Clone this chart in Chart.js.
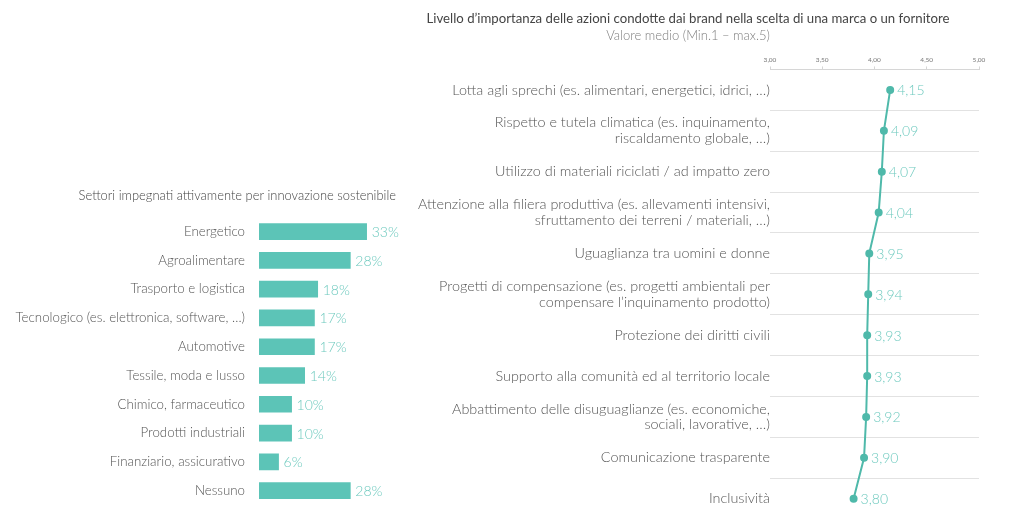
<!DOCTYPE html>
<html>
<head>
<meta charset="utf-8">
<script src="https://cdn.jsdelivr.net/npm/chart.js@4.4.1/dist/chart.umd.min.js"></script>
<style>
  html, body { margin: 0; padding: 0; background: #fff; }
  body { width: 1024px; height: 527px; position: relative; overflow: hidden; }
  .box { position: absolute; top: 0; height: 527px; }
  #sectorsBox { left: 0; width: 476px; }
  #actionsBox { left: 352px; width: 672px; }
</style>
</head>
<body>
<div class="box" id="sectorsBox"><canvas id="sectorsChart"></canvas></div>
<div class="box" id="actionsBox"><canvas id="actionsChart"></canvas></div>
<script>
// Settori impegnati (left bars)
const sectors = [
  'Energetico',
  'Agroalimentare',
  'Trasporto e logistica',
  'Tecnologico (es. elettronica, software, …)',
  'Automotive',
  'Tessile, moda e lusso',
  'Chimico, farmaceutico',
  'Prodotti industriali',
  'Finanziario, assicurativo',
  'Nessuno'
];
const sectorShares = [33, 28, 18, 17, 17, 14, 10, 10, 6, 28];

// Azioni dei brand (right line)
const actions = [
  'Lotta agli sprechi (es. alimentari, energetici, idrici, …)',
  ['Rispetto e tutela climatica (es. inquinamento,', 'riscaldamento globale, …)'],
  'Utilizzo di materiali riciclati / ad impatto zero',
  ['Attenzione alla filiera produttiva (es. allevamenti intensivi,', 'sfruttamento dei terreni / materiali, …)'],
  'Uguaglianza tra uomini e donne',
  ['Progetti di compensazione (es. progetti ambientali per', 'compensare l’inquinamento prodotto)'],
  'Protezione dei diritti civili',
  'Supporto alla comunità ed al territorio locale',
  ['Abbattimento delle disuguaglianze (es. economiche,', 'sociali, lavorative, …)'],
  'Comunicazione trasparente',
  'Inclusività'
];
const actionScores = [4.15, 4.09, 4.07, 4.04, 3.95, 3.94, 3.93, 3.93, 3.92, 3.90, 3.80];
const scoreTicks = [3, 3.5, 4, 4.5, 5];

const FONT = 'Lato, "Open Sans", sans-serif';
const TEAL = '#5cc4b7';
const TEAL_LINE = '#4fb9aa';
const TEAL_TEXT = '#6fcabf';
const GREY_TEXT = '#555';

Chart.defaults.font.family = FONT;
Chart.defaults.font.weight = '300';
Chart.defaults.animation = false;
Chart.defaults.responsive = true;
Chart.defaults.maintainAspectRatio = false;

const fmtComma = (v, d) => v.toFixed(d).replace('.', ',');

// draws the value next to each bar / point
const valueLabels = {
  id: 'valueLabels',
  afterDatasetsDraw(chart, args, opts) {
    const ctx = chart.ctx;
    const meta = chart.getDatasetMeta(0);
    const data = chart.data.datasets[0].data;
    ctx.save();
    ctx.font = opts.font;
    ctx.fillStyle = opts.color;
    ctx.textAlign = 'left';
    ctx.textBaseline = 'middle';
    meta.data.forEach((el, i) => {
      ctx.fillText(opts.format(data[i]), el.x + opts.offset, el.y + 1);
    });
    ctx.restore();
  }
};

function renderSectors() {
  const ctx = document.getElementById('sectorsChart').getContext('2d');
  new Chart(ctx, {
    type: 'bar',
    data: {
      labels: sectors,
      datasets: [{
        data: sectorShares,
        backgroundColor: TEAL,
        barThickness: 16,
      }],
    },
    options: {
      indexAxis: 'y',
      layout: { padding: { right: 80, bottom: 19.5 } },
      scales: {
        x: { display: false, min: 0, max: 42 },
        y: {
          afterFit: s => { s.width = 259; },
          grid: { display: false, drawTicks: false },
          border: { display: false },
          ticks: { color: GREY_TEXT, padding: 14, font: { size: 13.3 } },
        },
      },
      plugins: {
        legend: { display: false },
        tooltip: { enabled: false },
        title: {
          display: true,
          align: 'end',
          text: 'Settori impegnati attivamente per innovazione sostenibile',
          color: '#444',
          font: { size: 12.9, weight: '300' },
          padding: { top: 188, bottom: 13.7 },
        },
        valueLabels: {
          font: '300 14px ' + FONT,
          color: TEAL_TEXT,
          offset: 5,
          format: v => v + '%',
        },
      },
    },
    plugins: [valueLabels],
  });
}

function renderActions() {
  const ctx = document.getElementById('actionsChart').getContext('2d');
  new Chart(ctx, {
    type: 'line',
    data: {
      labels: actions,
      datasets: [{
        data: actionScores,
        borderColor: TEAL_LINE,
        backgroundColor: TEAL_LINE,
        borderWidth: 2,
        pointRadius: 3,
        tension: 0,
      }],
    },
    options: {
      indexAxis: 'y',
      layout: { padding: { left: 45, right: 45, bottom: 6.5 } },
      scales: {
        x: {
          type: 'linear',
          position: 'top',
          min: 3,
          max: 5,
          afterFit: s => { s.height = 26; },
          afterBuildTicks: s => { s.ticks = scoreTicks.map(v => ({ value: v })); },
          grid: { drawOnChartArea: false, tickLength: 3, color: '#d6d6d6' },
          border: { color: '#d6d6d6' },
          ticks: {
            color: '#777',
            padding: 3,
            font: { size: 6.5, weight: 'normal' },
            callback: v => fmtComma(v, 2),
          },
        },
        y: {
          type: 'category',
          offset: true,
          afterFit: s => { s.width = 373; },
          grid: {
            offset: true,
            drawTicks: false,
            color: c => (c.type === 'tick' ? '#e2e2e2' : 'rgba(0,0,0,0)'),
          },
          border: { display: false },
          ticks: {
            color: GREY_TEXT,
            padding: 0,
            font: { size: 14.4, lineHeight: 1.1 },
          },
        },
      },
      plugins: {
        legend: { display: false },
        tooltip: { enabled: false },
        title: {
          display: true,
          text: 'Livello d’importanza delle azioni condotte dai brand nella scelta di una marca o un fornitore',
          color: '#444',
          font: { size: 13.2, weight: 'normal' },
          padding: { top: 11, bottom: 0 },
        },
        subtitle: {
          display: true,
          text: 'Valore medio (Min.1 – max.5)',
          color: '#808080',
          font: { size: 13, weight: '300' },
          padding: { top: 1, bottom: 0 },
        },
        valueLabels: {
          font: '300 14px ' + FONT,
          color: TEAL_TEXT,
          offset: 7,
          format: v => fmtComma(v, 2),
        },
      },
    },
    plugins: [valueLabels],
  });
}

renderSectors();
renderActions();
</script>
</body>
</html>
